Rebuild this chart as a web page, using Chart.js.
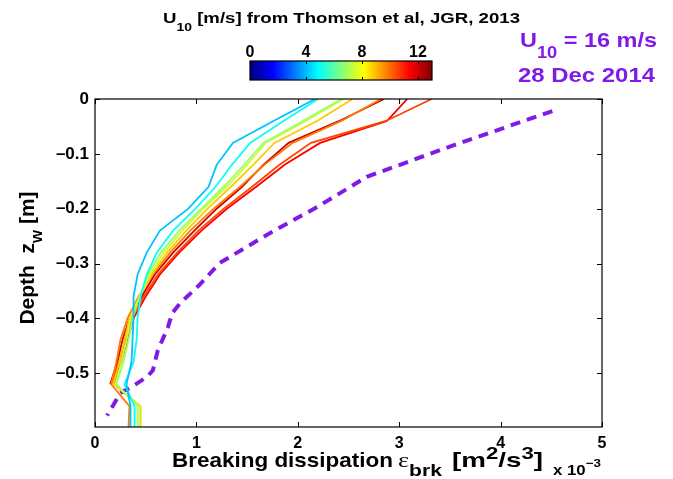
<!DOCTYPE html>
<html>
<head>
<meta charset="utf-8">
<script src="https://cdn.jsdelivr.net/npm/chart.js@4/dist/chart.umd.min.js"></script>
<style>
  html, body { margin: 0; padding: 0; background: #fff; }
  canvas { display: block; }
</style>
</head>
<body>
<canvas id="c" width="673" height="479"></canvas>
<script>
// Depth levels of the modelled profiles (m)
const depth = [0, -0.04, -0.08, -0.12, -0.16, -0.20, -0.24, -0.28, -0.32, -0.36, -0.40, -0.44, -0.48, -0.52, -0.56, -0.60];

// Wind speed U10 (m/s) of each profile, in drawing order
const windSpeeds = [4.1, 5.0, 6.9, 7.4, 8.8, 9.8, 12.0, 10.5, 11.4];

// Breaking dissipation profiles, in units of 1e-3 m^2/s^3
const epsU4_1  = [2.17, 1.76, 1.36, 1.20, 1.12, 0.92, 0.64, 0.51, 0.42, 0.38, 0.38, 0.37, 0.36, 0.31, 0.35, 0.35];
const epsU5_0  = [2.20, 1.86, 1.53, 1.35, 1.19, 0.99, 0.77, 0.61, 0.51, 0.45, 0.42, 0.41, 0.38, 0.29, 0.39, 0.39];
const epsU6_9  = [2.43, 2.05, 1.66, 1.47, 1.27, 1.05, 0.83, 0.65, 0.52, 0.44, 0.37, 0.33, 0.28, 0.21, 0.42, 0.42];
const epsU7_4  = [2.45, 2.08, 1.68, 1.50, 1.30, 1.07, 0.86, 0.68, 0.54, 0.44, 0.35, 0.31, 0.26, 0.20, 0.44, 0.44];
const epsU8_8  = [2.54, 2.19, 1.77, 1.56, 1.34, 1.11, 0.90, 0.71, 0.56, 0.44, 0.34, 0.29, 0.24, 0.18, 0.45, 0.45];
const epsU9_8  = [2.82, 2.43, 1.95, 1.67, 1.43, 1.17, 0.94, 0.74, 0.57, 0.43, 0.32, 0.25, 0.21, 0.16, 0.34, 0.33];
const epsU12_0 = [2.85, 2.41, 1.91, 1.66, 1.45, 1.20, 0.98, 0.77, 0.59, 0.46, 0.34, 0.27, 0.22, 0.15];
const epsU10_5 = [3.32, 2.87, 2.13, 1.82, 1.55, 1.27, 1.02, 0.81, 0.62, 0.48, 0.36, 0.30, 0.24, 0.16];
const epsU11_4 = [3.08, 2.88, 2.22, 1.87, 1.59, 1.30, 1.05, 0.83, 0.64, 0.50, 0.38, 0.32, 0.26, 0.18];
const profiles = [epsU4_1, epsU5_0, epsU6_9, epsU7_4, epsU8_8, epsU9_8, epsU12_0, epsU10_5, epsU11_4];

// Observed profile, 28 Dec 2014 (U10 = 16 m/s)
const obsEps   = [4.51, 3.48, 2.68, 2.19, 1.72, 1.23, 1.03, 0.84, 0.76, 0.72, 0.62, 0.57, 0.51, 0.37, 0.25, 0.12];
const obsDepth = [-0.022, -0.088, -0.142, -0.197, -0.245, -0.299, -0.339, -0.372, -0.391, -0.416, -0.458, -0.495, -0.507, -0.524, -0.536, -0.577];

// Axis ticks and colour scale
const xTicks = [0, 1, 2, 3, 4, 5];
const yTicks = [0, -0.1, -0.2, -0.3, -0.4, -0.5];
const colorRange = [0, 13];
const colorTicks = [0, 4, 8, 12];

const FONT = '"Liberation Sans", Arial, Helvetica, sans-serif';
const SERIF = '"Liberation Serif", "DejaVu Serif", serif';
const PURPLE = 'rgb(128,26,230)';

// MATLAB-style jet colormap
function jet(v) {
  const t = (v - colorRange[0]) / (colorRange[1] - colorRange[0]);
  const c = f => Math.round(255 * Math.max(0, Math.min(1, 1.5 - Math.abs(4 * t - f))));
  return `rgb(${c(3)},${c(2)},${c(1)})`;
}

const datasets = profiles.map((p, i) => ({
  data: p.map((e, k) => ({ x: e, y: depth[k] })),
  borderColor: jet(windSpeeds[i]),
  borderWidth: 1.8,
  pointRadius: 0,
  tension: 0,
  fill: false
}));
datasets.push({
  data: obsEps.map((e, k) => ({ x: e, y: obsDepth[k] })),
  borderColor: PURPLE,
  borderWidth: 4,
  borderDash: [10, 7],
  borderCapStyle: 'butt',
  pointRadius: 0,
  tension: 0,
  fill: false
});

// Text pieces with sub/superscripts. opts: size, color, width (target width, stretches
// horizontally), sub, sup (baseline offsets in em), small (script size in em)
function richText(ctx, x, y, parts, opts) {
  const size = opts.size;
  const small = opts.small || 0.75;
  const subOff = opts.sub || 0.5;
  const supOff = opts.sup || 0.45;
  const fontFor = p => {
    const s = p[1] ? size * small : size;
    return p[2] === 'serif' ? `normal ${s}px ${SERIF}` : `bold ${s}px ${FONT}`;
  };
  let total = 0;
  for (const p of parts) { ctx.font = fontFor(p); total += ctx.measureText(p[0]).width; }
  if (opts.measure) return total;
  const sx = opts.width ? opts.width / total : 1;
  ctx.save();
  ctx.translate(x, y);
  ctx.scale(sx, 1);
  ctx.fillStyle = opts.color || '#000';
  ctx.textAlign = 'left';
  ctx.textBaseline = 'alphabetic';
  let cx = 0;
  for (const p of parts) {
    ctx.font = fontFor(p);
    const dy = p[1] === 'sub' ? size * subOff : p[1] === 'sup' ? -size * supOff : 0;
    ctx.fillText(p[0], cx, dy);
    cx += ctx.measureText(p[0]).width;
  }
  ctx.restore();
  return total * sx;
}

const decor = {
  id: 'decor',
  afterDraw(chart) {
    const { ctx, chartArea: a, scales } = chart;
    const xs = scales.x, ys = scales.y;
    ctx.save();

    // axes frame with inward ticks
    ctx.strokeStyle = '#000';
    ctx.lineWidth = 1.2;
    ctx.strokeRect(a.left, a.top, a.right - a.left, a.bottom - a.top);
    ctx.beginPath();
    for (const v of xTicks) {
      const px = Math.round(xs.getPixelForValue(v)) + 0.5;
      ctx.moveTo(px, a.bottom); ctx.lineTo(px, a.bottom - 5);
      ctx.moveTo(px, a.top); ctx.lineTo(px, a.top + 5);
    }
    for (const v of yTicks) {
      const py = Math.round(ys.getPixelForValue(v)) + 0.5;
      ctx.moveTo(a.left, py); ctx.lineTo(a.left + 5, py);
      ctx.moveTo(a.right, py); ctx.lineTo(a.right - 5, py);
    }
    ctx.lineWidth = 1;
    ctx.stroke();

    // x-axis title, in three runs
    const xt = { size: 21, small: 0.8, sub: 0.45, sup: 0.38 };
    richText(ctx, 172, 467, [['Breaking dissipation', '']], Object.assign({ width: 221 }, xt));
    richText(ctx, 398, 467, [['\u03b5', '', 'serif'], ['brk', 'sub']], Object.assign({ width: 44 }, xt));
    richText(ctx, 452, 467, [['[m', ''], ['2', 'sup'], ['/s', ''], ['3', 'sup'], [']', '']],
      Object.assign({ width: 91 }, xt));

    // exponent marker
    richText(ctx, 553, 475, [['x 10', ''], ['\u22123', 'sup']],
      { size: 14, width: 48, small: 0.8, sup: 0.6 });

    // y-axis title, rotated
    ctx.save();
    ctx.translate(34, 258);
    ctx.rotate(-Math.PI / 2);
    const yParts = [['Depth  z', ''], ['w', 'sub'], [' [m]', '']];
    const yOpts = { size: 21, small: 0.8, sub: 0.4 };
    const w = richText(ctx, 0, 0, yParts, Object.assign({ measure: true }, yOpts));
    richText(ctx, -w / 2, 0, yParts, yOpts);
    ctx.restore();

    // title above the colour bar
    richText(ctx, 163, 23, [['U', ''], ['10', 'sub'], [' [m/s] from Thomson et al, JGR, 2013', '']],
      { size: 15, width: 357, small: 0.75, sub: 0.55 });

    // colour bar
    const cb = { left: 250, right: 432, top: 61, bottom: 80 };
    const cbX = v => cb.left + (v - colorRange[0]) / (colorRange[1] - colorRange[0]) * (cb.right - cb.left);
    for (let px = cb.left; px < cb.right; px++) {
      const v = colorRange[0] + (px + 0.5 - cb.left) / (cb.right - cb.left) * (colorRange[1] - colorRange[0]);
      ctx.fillStyle = jet(v);
      ctx.fillRect(px, cb.top, 1, cb.bottom - cb.top);
    }
    ctx.strokeStyle = '#000';
    ctx.lineWidth = 1.2;
    ctx.strokeRect(cb.left, cb.top, cb.right - cb.left, cb.bottom - cb.top);
    ctx.beginPath();
    ctx.lineWidth = 1;
    for (const v of colorTicks) {
      const px = Math.round(cbX(v)) + 0.5;
      ctx.moveTo(px, cb.top); ctx.lineTo(px, cb.top + 3);
      ctx.moveTo(px, cb.bottom); ctx.lineTo(px, cb.bottom - 3);
    }
    ctx.stroke();
    ctx.font = `bold 16px ${FONT}`;
    ctx.fillStyle = '#000';
    ctx.textAlign = 'center';
    ctx.textBaseline = 'alphabetic';
    for (const v of colorTicks) ctx.fillText(String(v), cbX(v), 57);

    // annotation of the observed profile
    richText(ctx, 520, 47, [['U', ''], ['10', 'sub'], [' = 16 m/s', '']],
      { size: 21, width: 137, color: PURPLE, small: 0.78, sub: 0.5 });
    richText(ctx, 518, 82, [['28 Dec 2014', '']], { size: 21, width: 137, color: PURPLE });

    ctx.restore();
  }
};

new Chart(document.getElementById('c'), {
  type: 'line',
  data: { datasets },
  options: {
    responsive: false,
    animation: false,
    events: [],
    layout: { padding: { top: 99, right: 71, left: 0, bottom: 0 } },
    plugins: { legend: { display: false }, tooltip: { enabled: false }, title: { display: false } },
    scales: {
      x: {
        type: 'linear',
        min: 0, max: 5,
        afterBuildTicks: s => { s.ticks = xTicks.map(v => ({ value: v })); },
        afterFit: s => { s.height = 479 - 427; },
        grid: { display: false, drawTicks: false },
        border: { display: false },
        ticks: {
          padding: 7,
          color: '#000',
          font: { family: FONT, size: 16, weight: 'bold' },
          callback: v => String(v)
        }
      },
      y: {
        type: 'linear',
        min: -0.598, max: 0,
        afterBuildTicks: s => { s.ticks = yTicks.map(v => ({ value: v })); },
        afterFit: s => { s.width = 95; },
        grid: { display: false, drawTicks: false },
        border: { display: false },
        ticks: {
          padding: 6,
          color: '#000',
          font: { family: FONT, size: 17, weight: 'bold' },
          callback: v => v === 0 ? '0' : '\u2013' + Math.abs(v).toFixed(1)
        }
      }
    }
  },
  plugins: [decor]
});
</script>
</body>
</html>
